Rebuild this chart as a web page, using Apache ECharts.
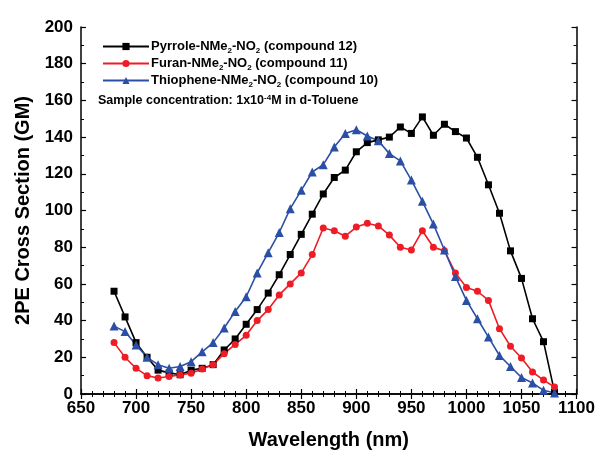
<!DOCTYPE html>
<html>
<head>
<meta charset="utf-8">
<script src="https://cdn.jsdelivr.net/npm/echarts@6/dist/echarts.min.js"></script>
<style>
  html, body { margin: 0; padding: 0; background: #fff; }
  #chart { width: 598px; height: 456px; }
</style>
</head>
<body>
<div id="chart"></div>
<script>
// Wavelengths (nm) at which the 2PE cross sections were measured
const wavelengths = [680, 690, 700, 710, 720, 730, 740, 750, 760, 770,
  780, 790, 800, 810, 820, 830, 840, 850, 860, 870,
  880, 890, 900, 910, 920, 930, 940, 950, 960, 970,
  980, 990, 1000, 1010, 1020, 1030, 1040, 1050, 1060, 1070, 1080];

// 2PE cross sections (GM)
const pyrrole = [56, 42, 28, 20, 13, 11.5, 10.5, 13, 14, 16,
  24, 30, 38, 46, 55, 65, 76, 87, 98, 109,
  118, 122, 132, 137, 138.5, 140, 145.5, 142, 151, 141,
  147, 143, 139.5, 129, 114, 98.5, 78, 63, 41, 28.5, 1];
const furan = [28, 20, 14, 10, 8.7, 9.5, 10.4, 11.3, 13.6, 16,
  22, 27, 32, 40, 46, 54, 60, 66, 76, 90.5,
  89, 86, 91, 93, 91.6, 86.6, 80, 78.5, 89, 80,
  78, 66, 58, 56, 51, 35.6, 26, 19.6, 12, 7.6, 3.8];
const thiophene = [37, 34, 26.7, 20, 16, 14, 15, 17.6, 23, 28,
  36, 45, 53, 66, 77, 88, 101, 111, 121, 125,
  134.6, 142, 144, 140.6, 138, 131, 127, 116.6, 105, 92.6,
  78.5, 64, 51, 41, 31, 21, 15, 9, 6, 2, 0.5];

const xTicks = { min: 650, max: 1100, step: 50 };
const yTicks = { min: 0, max: 200, step: 20 };

const seriesInfo = [
  { name: 'Pyrrole', label: 'Pyrrole-NMe{s|2}-NO{s|2} (compound 12)', values: pyrrole, color: '#000000', symbol: 'rect', size: 7 },
  { name: 'Furan', label: 'Furan-NMe{s|2}-NO{s|2} (compound 11)', values: furan, color: '#ee1c25', symbol: 'circle', size: 7 },
  { name: 'Thiophene', label: 'Thiophene-NMe{s|2}-NO{s|2} (compound 10)', values: thiophene, color: '#2c4fa6', symbol: 'triangle', size: 9 }
];

const FONT = '"Liberation Sans", Arial, sans-serif';
const chart = echarts.init(document.getElementById('chart'));

const baseAxisLine = { show: true, lineStyle: { color: '#000', width: 1.5 } };
const tickStyle = { show: true, inside: true, length: 5, lineStyle: { color: '#000', width: 1.2 } };
const minorStyle = { show: true, length: 3, lineStyle: { color: '#000', width: 1 } };

function xAxisDef(pos, showLabel) {
  return {
    type: 'value', position: pos, min: xTicks.min, max: xTicks.max, interval: xTicks.step,
    axisLine: baseAxisLine, axisTick: tickStyle,
    minorTick: Object.assign({ splitNumber: 5 }, minorStyle),
    splitLine: { show: false },
    axisLabel: { show: showLabel, color: '#000', fontFamily: FONT, fontWeight: 'bold', fontSize: 17, margin: 6,
      formatter: v => String(v) },
    name: showLabel ? 'Wavelength (nm)' : '', nameLocation: 'middle', nameGap: 36,
    nameTextStyle: { color: '#000', fontFamily: FONT, fontWeight: 'bold', fontSize: 20 }
  };
}
function yAxisDef(pos, showLabel) {
  return {
    type: 'value', position: pos, min: yTicks.min, max: yTicks.max, interval: yTicks.step,
    axisLine: baseAxisLine, axisTick: tickStyle,
    minorTick: Object.assign({ splitNumber: 2 }, minorStyle),
    splitLine: { show: false },
    axisLabel: { show: showLabel, color: '#000', fontFamily: FONT, fontWeight: 'bold', fontSize: 17, margin: 8,
      formatter: v => String(v) },
    name: showLabel ? '2PE Cross Section (GM)' : '', nameLocation: 'middle', nameGap: 48,
    nameTextStyle: { color: '#000', fontFamily: FONT, fontWeight: 'bold', fontSize: 20 }
  };
}

chart.setOption({
  animation: false,
  backgroundColor: '#fff',
  grid: { left: 81, right: 21, top: 27, bottom: 62, containLabel: false },
  xAxis: [xAxisDef('bottom', true), xAxisDef('top', false)],
  yAxis: [yAxisDef('left', true), yAxisDef('right', false)],
  legend: {
    orient: 'vertical', left: 97, top: 35, itemGap: 2,
    itemWidth: 46, itemHeight: 9,
    data: seriesInfo.map(s => s.name),
    formatter: name => seriesInfo.find(s => s.name === name).label,
    textStyle: {
      color: '#000', fontFamily: FONT, fontWeight: 'bold', fontSize: 13, padding: [0, 0, 0, -3],
      rich: {
        s: { fontFamily: FONT, fontWeight: 'bold', fontSize: 8, verticalAlign: 'bottom', padding: [9, 0, 0, 0], color: '#000' }
      }
    }
  },
  graphic: [{
    type: 'text', left: 98, top: 94,
    style: {
      text: 'Sample concentration: 1x10{p|-4}M in d-Toluene',
      fontFamily: FONT, fontWeight: 'bold', fontSize: 12.5, fill: '#000',
      rich: { p: { fontFamily: FONT, fontWeight: 'bold', fontSize: 8, verticalAlign: 'top', padding: [0, 0, 6, 0], fill: '#000' } }
    }
  }],
  series: seriesInfo.map(s => ({
    name: s.name, type: 'line',
    data: wavelengths.map((w, i) => [w, s.values[i]]),
    symbol: s.symbol, symbolSize: s.size, showSymbol: true,
    lineStyle: { color: s.color, width: 1.6 },
    itemStyle: { color: s.color },
    z: 3
  }))
});
</script>
</body>
</html>
